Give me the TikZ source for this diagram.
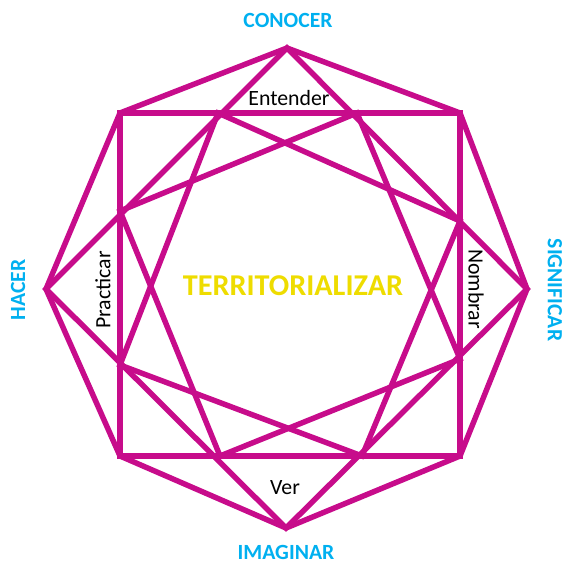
\documentclass[tikz,border=0pt]{standalone}
\usepackage{fontspec}
\setmainfont{Carlito}
\definecolor{starline}{RGB}{199,12,139}
\definecolor{axiscyan}{RGB}{0,176,240}
\definecolor{coreyellow}{RGB}{238,220,0}
\begin{document}
\begin{tikzpicture}[x=0.025cm,y=-0.025cm,
    edge/.style={draw=starline,line width=3.9pt,line join=miter},
    axis/.style={inner sep=0pt,text=axiscyan,font=\bfseries\fontsize{15.4}{18}\selectfont},
    verb/.style={inner sep=0pt,font=\fontsize{15.5}{18}\selectfont}]
                    \useasboundingbox (0,0) rectangle (563,563);
                    % outer octagon
                    \coordinate(T)at(287,48);\coordinate(R)at(527,289);\coordinate(B)at(286,528);\coordinate(L)at(46,289);
                    \coordinate(UL)at(120,113);\coordinate(UR)at(460,113);\coordinate(LR)at(460,456);\coordinate(LL)at(120,456);
                    % points on the square
                    \coordinate(t1)at(218,113);\coordinate(t2)at(357,113);
                    \coordinate(r1)at(460,221);\coordinate(r2)at(460,359);
                    \coordinate(b1)at(220,456);\coordinate(b2)at(362,456);
                    \coordinate(l1)at(120,211);\coordinate(l2)at(120,365);
                    \draw[edge] (T)--(UR)--(R)--(LR)--(B)--(LL)--(L)--(UL)--cycle;
                    \draw[edge] (UL)--(UR)--(LR)--(LL)--cycle;
                    \draw[edge] (T)--(R)--(B)--(L)--cycle;
                    \draw[edge] (t1)--(r1)--(b2)--(l2)--cycle;
                    \draw[edge] (t2)--(r2)--(b1)--(l1)--cycle;
                    % labels
                    \node[axis] (conocer) at (288,20) {CONOCER};
                    \node[axis] (imaginar) at (286,552) {IMAGINAR};
                    \node[axis,rotate=90] (hacer) at (18,290) {HACER};
                    \node[axis,rotate=-90] (significar) at (555,290) {SIGNIFICAR};
                    \node[inner sep=0pt,text=coreyellow,font=\bfseries\fontsize{21.5}{24}\selectfont] (territorio) at (293,286) {TERRITORIALIZAR};
                    \node[verb] (entender) at (289,98) {Entender};
                    \node[verb] (ver) at (285,488) {Ver};
                    \node[verb,rotate=90] (practicar) at (103,290) {Practicar};
                    \node[verb,rotate=-90] (nombrar) at (476,289) {Nombrar};
                \end{tikzpicture}
\end{document}
